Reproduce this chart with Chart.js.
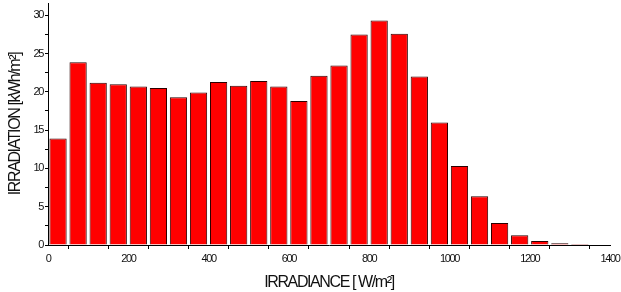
<!DOCTYPE html>
<html>
<head>
<meta charset="utf-8">
<script src="https://cdn.jsdelivr.net/npm/chart.js@4/dist/chart.umd.min.js"></script>
<style>
	html, body { margin: 0; padding: 0; background: #fff; }
	#wrap { width: 621px; height: 292px; }
</style>
</head>
<body>
<div id="wrap"><canvas id="chart"></canvas></div>
<script>
	"use strict"

	// 50 W/m² irradiance bins (centres) and the irradiation in each
	var binCenters = [25, 75, 125, 175, 225, 275, 325, 375, 425, 475, 525, 575, 625, 675,
		725, 775, 825, 875, 925, 975, 1025, 1075, 1125, 1175, 1225, 1275, 1325, 1375]
	var irradiation = [13.9, 23.85, 21.2, 21.0, 20.7, 20.5, 19.3, 19.9, 21.3, 20.8, 21.4, 20.7, 18.8, 22.1,
		23.45, 27.5, 29.3, 27.6, 22.0, 16.0, 10.3, 6.35, 2.87, 1.26, 0.52, 0.22, 0.13, 0.05]

	// major (labelled) and minor ticks
	var xTickLabels = ["0", "200", "400", "600", "800", "1000", "1200", "1400"]
	var xMinorTicks = [100, 300, 500, 700, 900, 1100, 1300]
	var yTickLabels = ["0", "5", "10", "15", "20", "25", "30"]
	var yMinorTicks = [2.5, 7.5, 12.5, 17.5, 22.5, 27.5]

	var FONT = '"Liberation Sans", Arial, sans-serif'
	var INK = "#000"

	function tickList(labels, minor) {
		var vals = labels.map(Number).concat(minor)
		vals.sort(function (a, b) { return a - b })
		return vals.map(function (v) { return { value: v } })
	}

	function isMajor(labels, v) {
		return labels.indexOf(String(v)) !== -1
	}

	// the original uses a tight, condensed lettering
	var condensed = {
		id: "condensed",
		beforeDraw: function (chart) {
			chart.ctx.letterSpacing = "-1.4px"
		},
	}

	new Chart(document.getElementById("chart"), {
		type: "bar",
		plugins: [condensed],
		data: {
			datasets: [{
				data: binCenters.map(function (x, i) { return { x: x, y: irradiation[i] } }),
				backgroundColor: "#ff0000",
				borderColor: "#2a0000",
				borderWidth: 1,
				barPercentage: 0.86,
				categoryPercentage: 1,
			}],
		},
		options: {
			responsive: true,
			maintainAspectRatio: false,
			animation: false,
			layout: { padding: { top: 3, right: 11, left: 0, bottom: 0 } },
			plugins: { legend: { display: false }, tooltip: { enabled: false } },
			scales: {
				x: {
					type: "linear",
					min: 0,
					max: 1400,
					offset: false,
					afterBuildTicks: function (s) { s.ticks = tickList(xTickLabels, xMinorTicks) },
					afterFit: function (s) { s.height = 47; s.paddingLeft = 0; s.paddingRight = 0 },
					grid: { drawOnChartArea: false, tickLength: 4, tickColor: INK },
					border: { color: INK, width: 1 },
					ticks: {
						autoSkip: false,
						maxRotation: 0,
						padding: 3,
						color: "#111",
						font: { family: FONT, size: 11 },
						callback: function (v) { return isMajor(xTickLabels, v) ? String(v) : "" },
					},
					title: {
						display: true,
						text: "IRRADIANCE [ W/m²]",
						color: "#111",
						font: { family: FONT, size: 16 },
						padding: { top: 0, bottom: 0 },
					},
				},
				y: {
					min: 0,
					max: 31.6,
					afterBuildTicks: function (s) { s.ticks = tickList(yTickLabels, yMinorTicks) },
					afterFit: function (s) { s.width = 48; s.paddingTop = 0; s.paddingBottom = 0 },
					grid: { drawOnChartArea: false, tickLength: 3, tickColor: INK },
					border: { color: INK, width: 1 },
					ticks: {
						autoSkip: false,
						padding: 2,
						color: "#111",
						font: { family: FONT, size: 11 },
						callback: function (v) { return isMajor(yTickLabels, v) ? String(v) : "" },
					},
					title: {
						display: true,
						text: "IRRADIATION [kWh/m²]",
						color: "#111",
						font: { family: FONT, size: 16 },
						padding: { top: 6, bottom: 0 },
					},
				},
			},
		},
	})
</script>
</body>
</html>
